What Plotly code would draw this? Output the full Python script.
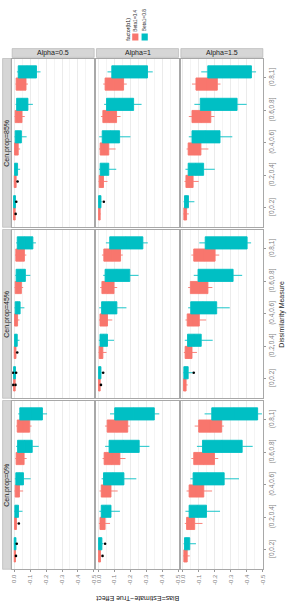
import plotly.graph_objects as go

# ---------------- data ----------------
CATEGORIES = ["[0,0.2]", "(0.2,0.4]", "(0.4,0.6]", "(0.6,0.8]", "(0.8,1]"]
CEN_PROPS = ["Cen.prop=85%", "Cen.prop=45%", "Cen.prop=0%"]
ALPHAS = ["Alpha=0.5", "Alpha=1", "Alpha=1.5"]
SERIES = ["Beta1=0.4", "Beta1=0.8"]
X_TICKS = [0.0, -0.1, -0.2, -0.3, -0.4, -0.5]
X_TICK_LABELS = ["0.0", "-0.1", "-0.2", "-0.3", "-0.4", "-0.5"]
X_MINOR = [-0.05, -0.15, -0.25, -0.35, -0.45]

# panel order: Cen.prop 85%, 45%, 0% (rows) x Alpha 0.5, 1, 1.5 (cols)
# inner lists follow CATEGORIES
# ---- Beta1=0.8 ----
WMIN_B08 = [
    [-0.010, -0.037, -0.078, -0.117, -0.165],
    [-0.020, -0.111, -0.200, -0.270, -0.340],
    [-0.072, -0.200, -0.310, -0.400, -0.459],
    [-0.009, -0.033, -0.064, -0.101, -0.136],
    [-0.020, -0.097, -0.175, -0.251, -0.309],
    [-0.062, -0.187, -0.294, -0.372, -0.428],
    [-0.013, -0.052, -0.103, -0.154, -0.206],
    [-0.030, -0.134, -0.237, -0.319, -0.381],
    [-0.082, -0.233, -0.352, -0.438, -0.496],
]
Q1_B08 = [
    [-0.008, -0.021, -0.045, -0.086, -0.140],
    [-0.015, -0.064, -0.132, -0.220, -0.307],
    [-0.035, -0.130, -0.233, -0.340, -0.430],
    [-0.008, -0.019, -0.037, -0.070, -0.117],
    [-0.015, -0.056, -0.115, -0.196, -0.278],
    [-0.033, -0.115, -0.212, -0.315, -0.403],
    [-0.011, -0.027, -0.058, -0.113, -0.177],
    [-0.021, -0.078, -0.159, -0.255, -0.350],
    [-0.043, -0.148, -0.259, -0.372, -0.469],
]
MED_B08 = [
    [-0.002, -0.010, -0.024, -0.048, -0.080],
    [-0.007, -0.035, -0.075, -0.130, -0.190],
    [-0.021, -0.080, -0.140, -0.220, -0.290],
    [-0.002, -0.009, -0.020, -0.040, -0.065],
    [-0.007, -0.030, -0.065, -0.115, -0.170],
    [-0.018, -0.070, -0.125, -0.200, -0.270],
    [-0.005, -0.014, -0.032, -0.065, -0.105],
    [-0.010, -0.045, -0.090, -0.155, -0.220],
    [-0.025, -0.090, -0.155, -0.245, -0.320],
]
Q3_B08 = [
    [0.004, -0.002, -0.006, -0.015, -0.025],
    [0.000, -0.010, -0.023, -0.050, -0.083],
    [-0.010, -0.033, -0.057, -0.109, -0.156],
    [0.004, -0.002, -0.006, -0.012, -0.019],
    [0.000, -0.009, -0.019, -0.041, -0.070],
    [-0.006, -0.029, -0.049, -0.095, -0.140],
    [0.000, -0.004, -0.010, -0.021, -0.035],
    [0.000, -0.017, -0.031, -0.066, -0.101],
    [-0.010, -0.039, -0.064, -0.123, -0.181],
]
WMAX_B08 = [
    [0.006, 0.001, -0.002, -0.008, -0.017],
    [0.002, -0.003, -0.004, -0.035, -0.056],
    [-0.004, -0.016, -0.037, -0.072, -0.115],
    [0.005, 0.000, -0.002, -0.006, -0.012],
    [0.002, -0.002, -0.004, -0.029, -0.046],
    [-0.002, -0.012, -0.033, -0.068, -0.103],
    [0.002, 0.000, -0.004, -0.012, -0.025],
    [0.002, -0.005, -0.019, -0.041, -0.072],
    [-0.004, -0.016, -0.047, -0.088, -0.136],
]
# ---- Beta1=0.4 ----
WMIN_B04 = [
    [-0.007, -0.016, -0.037, -0.066, -0.086],
    [-0.014, -0.056, -0.107, -0.138, -0.177],
    [-0.037, -0.099, -0.160, -0.198, -0.236],
    [-0.007, -0.014, -0.033, -0.056, -0.076],
    [-0.012, -0.050, -0.086, -0.117, -0.152],
    [-0.030, -0.088, -0.146, -0.185, -0.228],
    [-0.009, -0.020, -0.056, -0.078, -0.109],
    [-0.018, -0.072, -0.120, -0.169, -0.196],
    [-0.043, -0.123, -0.183, -0.222, -0.257],
]
Q1_B04 = [
    [-0.006, -0.012, -0.025, -0.049, -0.074],
    [-0.010, -0.031, -0.064, -0.113, -0.157],
    [-0.023, -0.064, -0.113, -0.175, -0.216],
    [-0.006, -0.011, -0.021, -0.045, -0.064],
    [-0.010, -0.027, -0.056, -0.097, -0.138],
    [-0.020, -0.057, -0.103, -0.157, -0.202],
    [-0.008, -0.014, -0.033, -0.062, -0.097],
    [-0.012, -0.041, -0.078, -0.134, -0.183],
    [-0.027, -0.074, -0.131, -0.198, -0.243],
]
MED_B04 = [
    [-0.001, -0.005, -0.012, -0.026, -0.042],
    [-0.005, -0.016, -0.035, -0.068, -0.097],
    [-0.014, -0.040, -0.072, -0.115, -0.150],
    [-0.001, -0.005, -0.011, -0.024, -0.036],
    [-0.005, -0.014, -0.030, -0.057, -0.085],
    [-0.011, -0.035, -0.065, -0.100, -0.135],
    [-0.004, -0.008, -0.018, -0.036, -0.057],
    [-0.006, -0.024, -0.045, -0.082, -0.115],
    [-0.016, -0.048, -0.085, -0.130, -0.170],
]
Q3_B04 = [
    [0.004, 0.000, -0.002, -0.006, -0.012],
    [0.000, -0.004, -0.010, -0.027, -0.041],
    [-0.006, -0.019, -0.033, -0.057, -0.082],
    [0.004, 0.000, -0.002, -0.006, -0.010],
    [0.000, -0.004, -0.009, -0.021, -0.033],
    [-0.004, -0.014, -0.027, -0.047, -0.068],
    [0.000, -0.002, -0.006, -0.012, -0.019],
    [0.000, -0.009, -0.017, -0.035, -0.054],
    [-0.006, -0.023, -0.039, -0.068, -0.099],
]
WMAX_B04 = [
    [0.005, 0.002, 0.000, -0.002, -0.008],
    [0.002, 0.000, -0.003, -0.015, -0.029],
    [-0.002, -0.010, -0.023, -0.037, -0.057],
    [0.005, 0.002, 0.000, -0.002, -0.005],
    [0.002, 0.000, -0.003, -0.010, -0.021],
    [-0.001, -0.006, -0.016, -0.033, -0.053],
    [0.002, 0.000, -0.002, -0.006, -0.012],
    [0.002, -0.002, -0.006, -0.025, -0.041],
    [-0.002, -0.012, -0.023, -0.053, -0.074],
]
# outliers: panel index, category index, value
OUT_B08_PANEL = [0, 1, 3, 3, 4, 5, 6, 7]
OUT_B08_CAT = [0, 0, 0, 0, 0, 0, 0, 0]
OUT_B08_VAL = [-0.013, -0.033, 0.008, -0.012, -0.029, -0.068, -0.016, -0.041]
OUT_B04_PANEL = [0, 0, 3, 3, 3, 4, 6, 6, 7]
OUT_B04_CAT = [0, 1, 0, 0, 1, 0, 0, 1, 0]
OUT_B04_VAL = [-0.009, -0.021, 0.008, -0.008, -0.019, -0.015, -0.011, -0.029, -0.025]

# ---------------- styling / layout ----------------
W, H = 295, 609
COLORS = {"Beta1=0.4": "#F8766D", "Beta1=0.8": "#00BFC4"}
FONT = "Liberation Sans, Arial, sans-serif"
COL_PX = [(11.3, 94.5), (96.8, 180.0), (182.3, 265.5)]
ROW_PX = [(58.5, 227.3), (229.5, 398.3), (400.5, 569.3)]
DODGE = 0.1875
BOXW = 0.375
GRID = "#EBEBEB"
BORDER = "#A8A8A8"


def px(x):
    return x / W


def py(y):
    return 1 - y / H


series_stats = {
    "Beta1=0.4": (WMIN_B04, Q1_B04, MED_B04, Q3_B04, WMAX_B04, -DODGE,
                  OUT_B04_PANEL, OUT_B04_CAT, OUT_B04_VAL),
    "Beta1=0.8": (WMIN_B08, Q1_B08, MED_B08, Q3_B08, WMAX_B08, DODGE,
                  OUT_B08_PANEL, OUT_B08_CAT, OUT_B08_VAL),
}

fig = go.Figure()
layout = {}
for r in range(3):
    for c in range(3):
        k = r * 3 + c
        sfx = "" if k == 0 else str(k + 1)
        xa, ya = "x" + sfx, "y" + sfx
        for name in SERIES:
            wmin, q1, med, q3, wmax, off, op, oc, ov = series_stats[name]
            col = COLORS[name]
            pos = [i + 1 + off for i in range(len(CATEGORIES))]
            fig.add_trace(go.Box(
                orientation="h", y=pos,
                lowerfence=wmin[k], q1=q1[k], median=med[k], q3=q3[k],
                upperfence=wmax[k], width=BOXW, whiskerwidth=0,
                fillcolor=col, line=dict(color=col, width=0.9),
                boxpoints=False, showlegend=False, hoverinfo="skip",
                xaxis=xa, yaxis=ya))
            ox = [v for p, v in zip(op, ov) if p == k]
            oy = [ci + 1 + off for p, ci in zip(op, oc) if p == k]
            if ox:
                fig.add_trace(go.Scatter(
                    x=ox, y=oy, mode="markers",
                    marker=dict(color="black", size=2.6),
                    showlegend=False, hoverinfo="skip", xaxis=xa, yaxis=ya))
        x0, x1 = COL_PX[c]
        y0, y1 = ROW_PX[r]
        layout["xaxis" + sfx] = dict(
            domain=[px(x0), px(x1)], anchor=ya, range=[0.013, -0.502],
            tickvals=X_TICKS, ticktext=X_TICK_LABELS,
            showticklabels=(r == 2), ticks="outside" if r == 2 else "",
            ticklen=2, tickwidth=0.6, tickcolor="#999999", tickangle=-90,
            tickfont=dict(size=6, color="#808080", family=FONT),
            showgrid=True, gridcolor=GRID, gridwidth=0.7,
            minor=dict(tickvals=X_MINOR, showgrid=True, gridcolor="#F4F4F4",
                       gridwidth=0.5, ticks=""),
            zeroline=False, showline=True, mirror=True, linecolor=BORDER,
            linewidth=0.8, fixedrange=True)
        layout["yaxis" + sfx] = dict(
            domain=[py(y1), py(y0)], anchor=xa, range=[0.4, 5.6],
            tickvals=[i + 1 for i in range(len(CATEGORIES))],
            ticktext=CATEGORIES, side="right",
            showticklabels=(c == 2), ticks="outside" if c == 2 else "",
            ticklen=2, tickwidth=0.6, tickcolor="#999999", tickangle=-90,
            tickfont=dict(size=6.5, color="#808080", family=FONT),
            showgrid=False, zeroline=False, showline=True, mirror=True,
            linecolor=BORDER, linewidth=0.8, fixedrange=True)

shapes = []
annotations = []
STRIP_FILL = "#D6D6D6"
STRIP_LINE = "#B0B0B0"
for c, lab in enumerate(ALPHAS):
    x0, x1 = COL_PX[c]
    shapes.append(dict(type="rect", xref="paper", yref="paper",
                       x0=px(x0), x1=px(x1), y0=py(57.4), y1=py(48.6),
                       fillcolor=STRIP_FILL, line=dict(color=STRIP_LINE, width=0.6),
                       layer="below"))
    annotations.append(dict(xref="paper", yref="paper", x=px((x0 + x1) / 2),
                            y=py(53.0), text=lab, showarrow=False,
                            font=dict(size=7, color="#1A1A1A", family=FONT),
                            xanchor="center", yanchor="middle"))
for r, lab in enumerate(CEN_PROPS):
    y0, y1 = ROW_PX[r]
    shapes.append(dict(type="rect", xref="paper", yref="paper",
                       x0=px(1.6), x1=px(10.2), y0=py(y1), y1=py(y0),
                       fillcolor=STRIP_FILL, line=dict(color=STRIP_LINE, width=0.6),
                       layer="below"))
    annotations.append(dict(xref="paper", yref="paper", x=px(6.0),
                            y=py((y0 + y1) / 2), text=lab, showarrow=False,
                            textangle=-90,
                            font=dict(size=7, color="#1A1A1A", family=FONT),
                            xanchor="center", yanchor="middle"))

# axis titles
annotations.append(dict(xref="paper", yref="paper", x=px(138.5), y=py(598.5),
                        text="Bias=Estimate\u2212True Effect", showarrow=False,
                        textangle=180,
                        font=dict(size=7, color="#1A1A1A", family=FONT),
                        xanchor="center", yanchor="middle"))
annotations.append(dict(xref="paper", yref="paper", x=px(284.5), y=py(314),
                        text="Dissimilarity Measure", showarrow=False,
                        textangle=-90,
                        font=dict(size=7, color="#1A1A1A", family=FONT),
                        xanchor="center", yanchor="middle"))

# legend (rotated, drawn manually)
annotations.append(dict(xref="paper", yref="paper", x=px(128.5), y=py(29),
                        text="factor(b1)", showarrow=False, textangle=-90,
                        font=dict(size=5.3, color="#1A1A1A", family=FONT),
                        xanchor="center", yanchor="middle"))
KEY_X = [(133.0, 139.3), (142.5, 148.8)]
for (kx0, kx1), name in zip(KEY_X, SERIES):
    shapes.append(dict(type="rect", xref="paper", yref="paper",
                       x0=px(kx0), x1=px(kx1), y0=py(40.5), y1=py(33.5),
                       fillcolor=COLORS[name], line=dict(width=0)))
    annotations.append(dict(xref="paper", yref="paper", x=px((kx0 + kx1) / 2),
                            y=py(20.5), text=name, showarrow=False, textangle=-90,
                            font=dict(size=4.8, color="#333333", family=FONT),
                            xanchor="center", yanchor="middle"))

fig.update_layout(
    width=W, height=H, margin=dict(l=0, r=0, t=0, b=0),
    paper_bgcolor="white", plot_bgcolor="white",
    shapes=shapes, annotations=annotations, showlegend=False,
    **layout)

fig.write_html("out.html", config={"displayModeBar": False})
